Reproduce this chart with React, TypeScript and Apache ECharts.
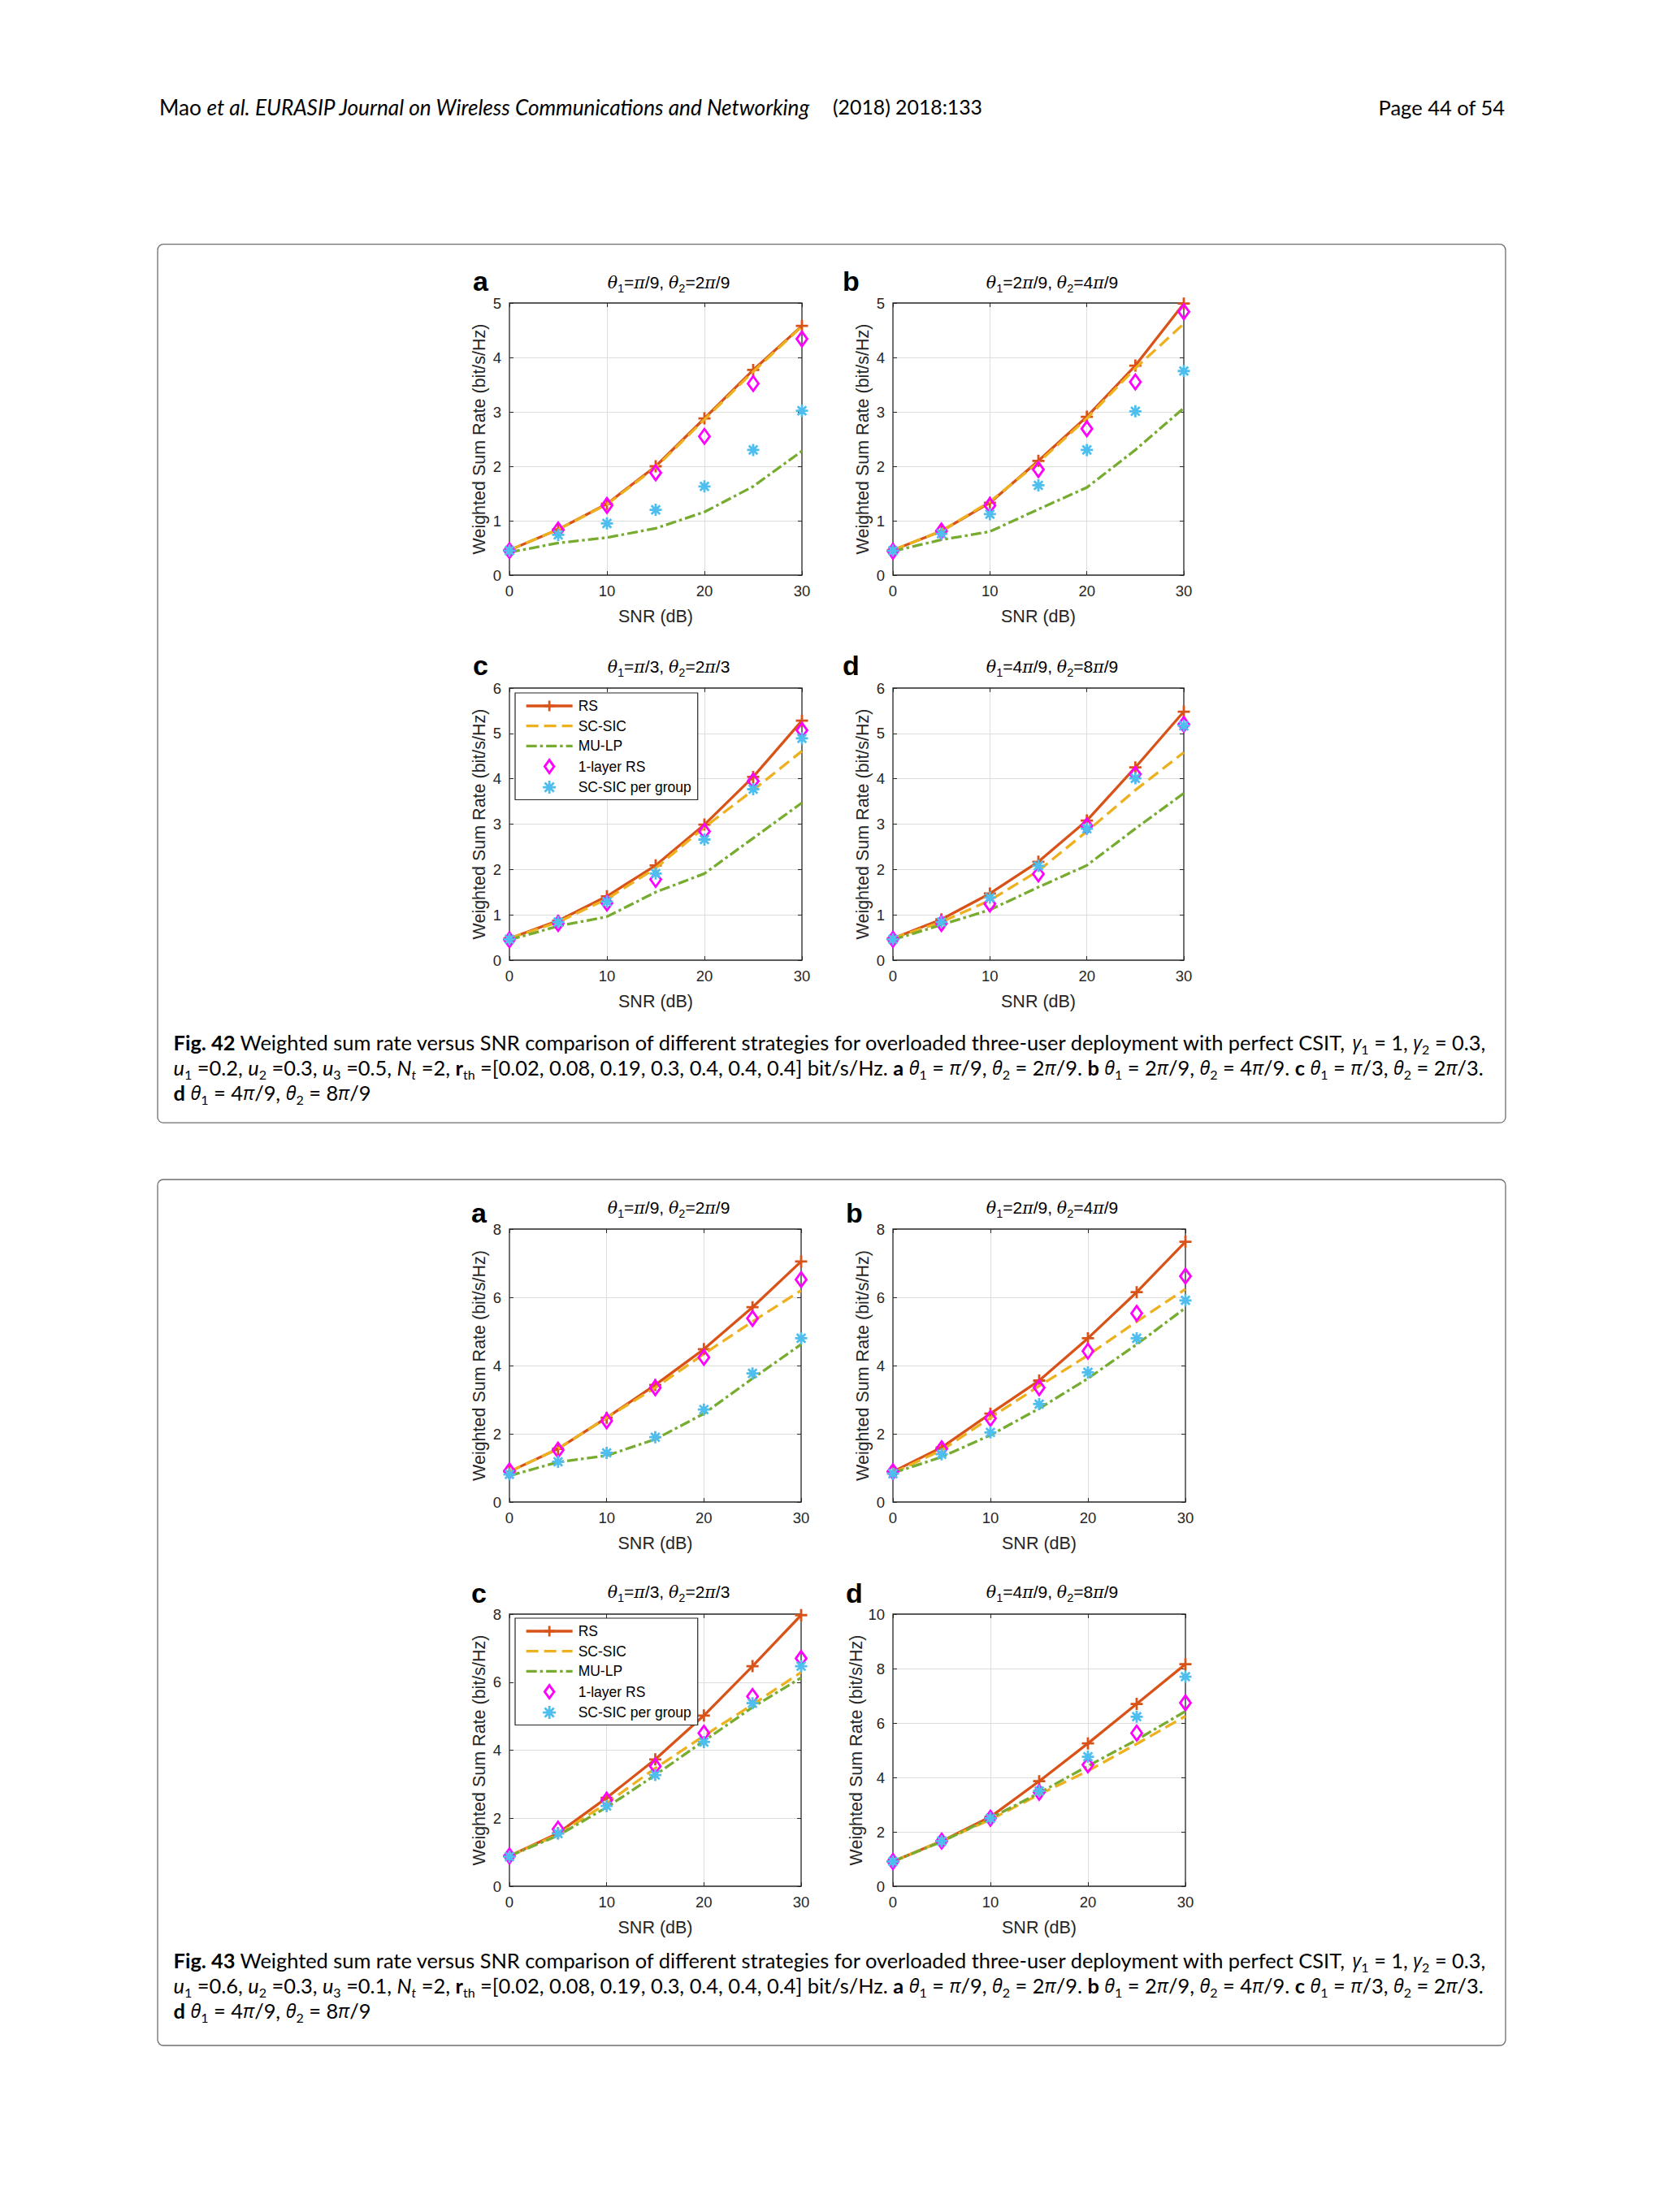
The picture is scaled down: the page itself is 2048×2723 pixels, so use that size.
import React, { useEffect, useRef } from 'react';
import * as echarts from 'echarts';

const W = 2048;
const H = 2723;

// ---------- data ----------
const snr = [0, 5, 10, 15, 20, 25, 30];
const seriesNames = ['RS', 'SC-SIC', 'MU-LP', '1-layer RS', 'SC-SIC per group'];
const rth = ['0.02', '0.08', '0.19', '0.3', '0.4', '0.4', '0.4'];
const u42 = ['0.2', '0.3', '0.5'];
const u43 = ['0.6', '0.3', '0.1'];
const thetaPairs = [['π/9', '2π/9'], ['2π/9', '4π/9'], ['π/3', '2π/3'], ['4π/9', '8π/9']];
const panelLetters = ['a', 'b', 'c', 'd'];
const yMax42 = [5, 5, 6, 6];
const yMax43 = [8, 8, 8, 10];
const yTick42 = [1, 1, 1, 1];
const yTick43 = [2, 2, 2, 2];

// Fig. 42 (a)
const f42a_rs = [0.46, 0.84, 1.31, 2.0, 2.88, 3.77, 4.58];
const f42a_sc = [0.46, 0.84, 1.3, 1.98, 2.86, 3.74, 4.57];
const f42a_mu = [0.42, 0.59, 0.69, 0.86, 1.16, 1.63, 2.28];
const f42a_r1 = [0.45, 0.83, 1.28, 1.88, 2.55, 3.52, 4.34];
const f42a_pg = [0.45, 0.74, 0.95, 1.2, 1.63, 2.3, 3.02];
// Fig. 42 (b)
const f42b_rs = [0.46, 0.81, 1.33, 2.1, 2.91, 3.85, 4.99];
const f42b_sc = [0.46, 0.81, 1.35, 2.07, 2.88, 3.8, 4.62];
const f42b_mu = [0.44, 0.65, 0.8, 1.21, 1.61, 2.3, 3.07];
const f42b_r1 = [0.44, 0.81, 1.28, 1.94, 2.69, 3.55, 4.84];
const f42b_pg = [0.45, 0.76, 1.12, 1.65, 2.3, 3.01, 3.75];
// Fig. 42 (c)
const f42c_rs = [0.48, 0.87, 1.41, 2.09, 2.99, 4.04, 5.28];
const f42c_sc = [0.48, 0.84, 1.35, 2.03, 2.93, 3.75, 4.61];
const f42c_mu = [0.45, 0.75, 0.96, 1.5, 1.91, 2.69, 3.47];
const f42c_r1 = [0.45, 0.81, 1.26, 1.78, 2.84, 3.95, 5.07];
const f42c_pg = [0.46, 0.84, 1.29, 1.91, 2.66, 3.77, 4.89];
// Fig. 42 (d)
const f42d_rs = [0.48, 0.9, 1.47, 2.17, 3.08, 4.25, 5.48];
const f42d_sc = [0.48, 0.84, 1.32, 1.97, 2.84, 3.75, 4.58];
const f42d_mu = [0.45, 0.78, 1.11, 1.61, 2.09, 2.9, 3.68];
const f42d_r1 = [0.46, 0.81, 1.24, 1.9, 2.96, 4.1, 5.2];
const f42d_pg = [0.46, 0.84, 1.38, 2.08, 2.9, 4.01, 5.17];
// Fig. 43 (a)
const f43a_rs = [0.89, 1.56, 2.47, 3.43, 4.48, 5.71, 7.05];
const f43a_sc = [0.89, 1.56, 2.47, 3.35, 4.34, 5.29, 6.2];
const f43a_mu = [0.77, 1.17, 1.36, 1.84, 2.59, 3.62, 4.62];
const f43a_r1 = [0.91, 1.52, 2.38, 3.35, 4.24, 5.38, 6.52];
const f43a_pg = [0.81, 1.18, 1.44, 1.9, 2.71, 3.77, 4.8];
// Fig. 43 (b)
const f43b_rs = [0.89, 1.6, 2.59, 3.56, 4.8, 6.15, 7.63];
const f43b_sc = [0.85, 1.52, 2.47, 3.4, 4.3, 5.29, 6.24];
const f43b_mu = [0.85, 1.32, 1.96, 2.74, 3.62, 4.62, 5.69];
const f43b_r1 = [0.89, 1.56, 2.45, 3.35, 4.42, 5.53, 6.62];
const f43b_pg = [0.83, 1.4, 2.04, 2.87, 3.8, 4.8, 5.91];
// Fig. 43 (c)
const f43c_rs = [0.89, 1.56, 2.6, 3.73, 5.02, 6.47, 7.97];
const f43c_sc = [0.89, 1.52, 2.44, 3.47, 4.42, 5.34, 6.29];
const f43c_mu = [0.89, 1.49, 2.32, 3.27, 4.27, 5.26, 6.13];
const f43c_r1 = [0.89, 1.68, 2.53, 3.53, 4.5, 5.58, 6.7];
const f43c_pg = [0.87, 1.55, 2.36, 3.27, 4.24, 5.38, 6.47];
// Fig. 43 (d)
const f43d_rs = [0.91, 1.66, 2.55, 3.86, 5.25, 6.7, 8.16];
const f43d_sc = [0.91, 1.66, 2.45, 3.37, 4.24, 5.23, 6.25];
const f43d_mu = [0.91, 1.64, 2.5, 3.43, 4.42, 5.38, 6.43];
const f43d_r1 = [0.91, 1.66, 2.5, 3.45, 4.46, 5.63, 6.74];
const f43d_pg = [0.91, 1.66, 2.5, 3.5, 4.76, 6.23, 7.7];

const fig42Data = [
  [f42a_rs, f42a_sc, f42a_mu, f42a_r1, f42a_pg],
  [f42b_rs, f42b_sc, f42b_mu, f42b_r1, f42b_pg],
  [f42c_rs, f42c_sc, f42c_mu, f42c_r1, f42c_pg],
  [f42d_rs, f42d_sc, f42d_mu, f42d_r1, f42d_pg],
];
const fig43Data = [
  [f43a_rs, f43a_sc, f43a_mu, f43a_r1, f43a_pg],
  [f43b_rs, f43b_sc, f43b_mu, f43b_r1, f43b_pg],
  [f43c_rs, f43c_sc, f43c_mu, f43c_r1, f43c_pg],
  [f43d_rs, f43d_sc, f43d_mu, f43d_r1, f43d_pg],
];

// ---------- layout & style ----------
const FONT = 'Liberation Sans';
const CAP_FONT = 'Lato';
const AX = '#262626';
const GRIDC = '#dedede';
const C_RS = '#D95319';
const C_SC = '#EDB120';
const C_MU = '#77AC30';
const C_R1 = '#FF00FF';
const C_PG = '#4DBEEE';
const TXT = '#231f20';

const PLUS = 'path://M0,-10L0,10M-10,0L10,0';
const STAR = 'path://M0,-10L0,10M-10,0L10,0M-7.07,-7.07L7.07,7.07M-7.07,7.07L7.07,-7.07';
const DIAMOND = 'path://M0,-9L6.5,0L0,9L-6.5,0Z';

type Layout = {
  gx: number; gy: number; gw: number; gh: number;
  tx: number; ty: number; lx: number; ly: number; legendTop?: number;
};

const layouts42: Layout[] = [
  { gx: 627, gy: 373, gw: 360, gh: 335, tx: 823, ty: 347.7, lx: 582, ly: 345.5 },
  { gx: 1099, gy: 373, gw: 358, gh: 335, tx: 1295, ty: 347.7, lx: 1037, ly: 345.5 },
  { gx: 627, gy: 847, gw: 360, gh: 335, tx: 823, ty: 820.7, lx: 582, ly: 819, legendTop: 853 },
  { gx: 1099, gy: 847, gw: 358, gh: 335, tx: 1295, ty: 820.7, lx: 1037, ly: 819 },
];
const layouts43: Layout[] = [
  { gx: 627, gy: 1513, gw: 359, gh: 336, tx: 823, ty: 1486.7, lx: 580, ly: 1492.5 },
  { gx: 1099, gy: 1513, gw: 360, gh: 336, tx: 1295, ty: 1486.7, lx: 1041, ly: 1492.5 },
  { gx: 627, gy: 1987, gw: 359, gh: 335, tx: 823, ty: 1959.7, lx: 580, ly: 1960.5, legendTop: 1992 },
  { gx: 1099, gy: 1987, gw: 360, gh: 335, tx: 1295, ty: 1959.7, lx: 1041, ly: 1960.5 },
];

const titleRich: any = {
  n: { fontFamily: FONT, fontSize: 21, lineHeight: 30, color: '#000' },
  g: { fontFamily: 'DejaVu Serif', fontStyle: 'italic', fontSize: 20.5, lineHeight: 30, color: '#000' },
  p: { fontFamily: 'DejaVu Serif', fontStyle: 'italic', fontSize: 20.5, lineHeight: 30, color: '#000' },
  s: { fontFamily: FONT, fontSize: 14.5, lineHeight: 15, verticalAlign: 'bottom', color: '#000' },
};

const CFS = 25.4;
const capRich: any = {
  n: { fontFamily: CAP_FONT, fontSize: CFS, lineHeight: 32, color: TXT },
  b: { fontFamily: CAP_FONT, fontSize: CFS, fontWeight: 'bold', lineHeight: 32, color: TXT },
  i: { fontFamily: CAP_FONT, fontSize: CFS, fontStyle: 'italic', lineHeight: 32, color: TXT },
  g: { fontFamily: 'Open Sans', fontSize: 23.4, fontStyle: 'italic', lineHeight: 32, color: TXT },
  s: { fontFamily: CAP_FONT, fontSize: 16, lineHeight: 16, verticalAlign: 'bottom', color: TXT },
  si: { fontFamily: CAP_FONT, fontSize: 16, fontStyle: 'italic', lineHeight: 16, verticalAlign: 'bottom', color: TXT },
};

const headRich: any = {
  n: { fontFamily: CAP_FONT, fontSize: 26.2, lineHeight: 32, color: TXT },
  i: { fontFamily: CAP_FONT, fontSize: 26.2, fontStyle: 'italic', lineHeight: 32, color: TXT },
  m: { fontFamily: CAP_FONT, fontSize: 24.8, lineHeight: 32, color: TXT },
  r: { fontFamily: CAP_FONT, fontSize: 25.5, lineHeight: 32, color: TXT },
};

function fracTokens(s: string, normal: string, pi: string) {
  const parts = s.split('π');
  let out = '';
  parts.forEach((pt, k) => {
    if (pt) out += `{${normal}|${pt}}`;
    if (k < parts.length - 1) out += `{${pi}|π}`;
  });
  return out;
}

function titleText(pair: string[]) {
  return `{g|θ}{s|1}{n|=}${fracTokens(pair[0], 'n', 'p')}{n|, }{g|θ}{s|2}{n|=}${fracTokens(pair[1], 'n', 'p')}`;
}

function capTheta(k: number, last: boolean) {
  const pair = thetaPairs[k];
  return `{b|${panelLetters[k]}}{n| }{g|θ}{s|1}{n| = }${fracTokens(pair[0], 'n', 'g')}{n|, }{g|θ}{s|2}{n| = }${fracTokens(pair[1], 'n', 'g')}${last ? '' : '{n|. }'}`;
}

function captionLines(num: number, u: string[]) {
  const l1 = `{b|Fig. ${num}}{n| Weighted sum rate versus SNR comparison of different strategies for overloaded three-user deployment with perfect CSIT, }{g|γ}{s|1}{n| = 1, }{g|γ}{s|2}{n| = 0.3,}`;
  const l2 =
    `{i|u}{s|1}{n| =${u[0]}, }{i|u}{s|2}{n| =${u[1]}, }{i|u}{s|3}{n| =${u[2]}, }{i|N}{si|t}{n| =2, }{b|r}{s|th}{n| =[${rth.join(', ')}] bit/s/Hz. }` +
    capTheta(0, false) + capTheta(1, false) + capTheta(2, false);
  const l3 = capTheta(3, true);
  return [l1, l2, l3];
}

function pairs(arr: number[]) {
  return snr.map((x, k) => [x, arr[k]]);
}

function buildOption() {
  const grid: any[] = [];
  const xAxis: any[] = [];
  const yAxis: any[] = [];
  const series: any[] = [];
  const legend: any[] = [];
  const graphic: any[] = [];

  const panels: { lay: Layout; data: number[][]; ymax: number; yint: number; k: number }[] = [];
  layouts42.forEach((lay, k) => panels.push({ lay, data: fig42Data[k], ymax: yMax42[k], yint: yTick42[k], k }));
  layouts43.forEach((lay, k) => panels.push({ lay, data: fig43Data[k], ymax: yMax43[k], yint: yTick43[k], k }));

  const ticks = () => ({ show: true, inside: true, length: 5, lineStyle: { color: AX, width: 1 } });

  panels.forEach((p, i) => {
    const { lay } = p;
    grid.push({
      left: lay.gx, top: lay.gy, width: lay.gw, height: lay.gh,
      show: true, backgroundColor: '#fff', borderColor: AX, borderWidth: 1.3,
    });
    xAxis.push({
      gridIndex: i, type: 'value', min: 0, max: 30, interval: 10, position: 'bottom',
      name: 'SNR (dB)', nameLocation: 'middle', nameGap: 40,
      nameTextStyle: { fontFamily: FONT, fontSize: 21.5, color: AX },
      axisLine: { show: false, onZero: false }, axisTick: ticks(),
      axisLabel: { fontFamily: FONT, fontSize: 18.5, color: AX, margin: 10, showMinLabel: true, showMaxLabel: true },
      splitLine: { show: true, showMinLine: false, showMaxLine: false, lineStyle: { color: GRIDC, width: 1 } },
    });
    xAxis.push({
      gridIndex: i, type: 'value', min: 0, max: 30, interval: 10, position: 'top',
      axisLine: { show: false, onZero: false }, axisTick: ticks(), axisLabel: { show: false }, splitLine: { show: false },
    });
    yAxis.push({
      gridIndex: i, type: 'value', min: 0, max: p.ymax, interval: p.yint, position: 'left',
      name: 'Weighted Sum Rate (bit/s/Hz)', nameLocation: 'middle', nameGap: 26,
      nameTextStyle: { fontFamily: FONT, fontSize: 21.5, color: AX },
      axisLine: { show: false, onZero: false }, axisTick: ticks(),
      axisLabel: { fontFamily: FONT, fontSize: 18.5, color: AX, margin: 10, showMinLabel: true, showMaxLabel: true },
      splitLine: { show: true, showMinLine: false, showMaxLine: false, lineStyle: { color: GRIDC, width: 1 } },
    });
    yAxis.push({
      gridIndex: i, type: 'value', min: 0, max: p.ymax, interval: p.yint, position: 'right',
      axisLine: { show: false, onZero: false }, axisTick: ticks(), axisLabel: { show: false }, splitLine: { show: false },
    });

    const xi = 2 * i;
    series.push({
      type: 'line', name: seriesNames[0], xAxisIndex: xi, yAxisIndex: xi, data: pairs(p.data[0]),
      symbol: PLUS, symbolSize: 15, showSymbol: true, showAllSymbol: true,
      lineStyle: { color: C_RS, width: 3.3 },
      itemStyle: { color: C_RS, borderColor: C_RS, borderWidth: 2.8 },
      z: 2,
    });
    series.push({
      type: 'line', name: seriesNames[1], xAxisIndex: xi, yAxisIndex: xi, data: pairs(p.data[1]),
      symbol: 'none', lineStyle: { color: C_SC, width: 3.3, type: [15, 7] },
      itemStyle: { color: 'rgba(0,0,0,0)' }, z: 3,
    });
    series.push({
      type: 'line', name: seriesNames[2], xAxisIndex: xi, yAxisIndex: xi, data: pairs(p.data[2]),
      symbol: 'none', lineStyle: { color: C_MU, width: 3.3, type: [13, 4, 3.5, 4] },
      itemStyle: { color: 'rgba(0,0,0,0)' }, z: 4,
    });
    series.push({
      type: 'scatter', name: seriesNames[3], xAxisIndex: xi, yAxisIndex: xi, data: pairs(p.data[3]),
      symbol: DIAMOND, symbolSize: [13, 18],
      itemStyle: { color: 'rgba(0,0,0,0)', borderColor: C_R1, borderWidth: 2.9, opacity: 1 }, z: 5,
    });
    series.push({
      type: 'scatter', name: seriesNames[4], xAxisIndex: xi, yAxisIndex: xi, data: pairs(p.data[4]),
      symbol: STAR, symbolSize: 15,
      itemStyle: { color: C_PG, borderColor: C_PG, borderWidth: 2.8, opacity: 1 }, z: 6,
    });

    if (lay.legendTop) {
      legend.push({
        left: 634, top: lay.legendTop, orient: 'vertical', selectedMode: false,
        itemWidth: 57, itemHeight: 16, itemGap: 6.7,
        padding: [7, 8, 6, 12],
        borderColor: AX, borderWidth: 1.2, backgroundColor: '#fff',
        textStyle: { fontFamily: FONT, fontSize: 17.5, color: '#000', lineHeight: 18, padding: [0, 0, 0, 2] },
        data: [
          { name: seriesNames[0], itemStyle: { color: C_RS, borderColor: C_RS, borderWidth: 2.8 }, lineStyle: { color: C_RS, width: 3.3 } },
          { name: seriesNames[1], itemStyle: { color: 'rgba(0,0,0,0)', borderWidth: 0 }, lineStyle: { color: C_SC, width: 3.3, type: [15, 7] } },
          { name: seriesNames[2], itemStyle: { color: 'rgba(0,0,0,0)', borderWidth: 0 }, lineStyle: { color: C_MU, width: 3.3, type: [13, 4, 3.5, 4] } },
          { name: seriesNames[3], icon: DIAMOND, itemStyle: { color: 'rgba(0,0,0,0)', borderColor: C_R1, borderWidth: 2.9 } },
          { name: seriesNames[4], icon: STAR, itemStyle: { color: C_PG, borderColor: C_PG, borderWidth: 2.8 } },
        ],
      });
    }

    graphic.push({
      type: 'text', x: lay.tx, y: lay.ty, z: 10,
      style: { text: titleText(thetaPairs[p.k]), rich: titleRich, align: 'center', verticalAlign: 'middle' },
    });
    graphic.push({
      type: 'text', x: lay.lx, y: lay.ly, z: 10,
      style: { text: panelLetters[p.k], fontFamily: FONT, fontSize: 34, fontWeight: 'bold', fill: '#000', align: 'left', verticalAlign: 'middle' },
    });
  });

  // header
  graphic.push({
    type: 'text', x: 196, y: 131.6,
    style: { text: '{n|Mao }{i|et al. EURASIP Journal on Wireless Communications and Networking}', rich: headRich, align: 'left', verticalAlign: 'middle' },
  });
  graphic.push({
    type: 'text', x: 1025, y: 131.8,
    style: { text: '{m|(2018) 2018:133}', rich: headRich, align: 'left', verticalAlign: 'middle' },
  });
  graphic.push({
    type: 'text', x: 1852, y: 131.8,
    style: { text: '{r|Page 44 of 54}', rich: headRich, align: 'right', verticalAlign: 'middle' },
  });

  // figure boxes
  graphic.push({
    type: 'rect', z: -5, shape: { x: 194, y: 300.7, width: 1659, height: 1081.5, r: 7 },
    style: { fill: 'none', stroke: '#6e6e6e', lineWidth: 1.3 },
  });
  graphic.push({
    type: 'rect', z: -5, shape: { x: 194, y: 1452, width: 1659, height: 1066, r: 7 },
    style: { fill: 'none', stroke: '#6e6e6e', lineWidth: 1.3 },
  });

  // captions
  const cap42 = captionLines(42, u42);
  const cap43 = captionLines(43, u43);
  const capY42 = [1283.2, 1314.2, 1345.2];
  const capY43 = [2413.2, 2444.2, 2475.2];
  cap42.forEach((t, k) => graphic.push({ type: 'text', x: 213.6, y: capY42[k], style: { text: t, rich: capRich, align: 'left', verticalAlign: 'middle' } }));
  cap43.forEach((t, k) => graphic.push({ type: 'text', x: 213.6, y: capY43[k], style: { text: t, rich: capRich, align: 'left', verticalAlign: 'middle' } }));

  return {
    animation: false,
    backgroundColor: '#fff',
    grid, xAxis, yAxis, series, legend, graphic,
  };
}

export default function App() {
  const ref = useRef<HTMLDivElement>(null);
  useEffect(() => {
    document.body.style.margin = '0';
    if (!ref.current) return;
    const chart = echarts.init(ref.current, undefined, { renderer: 'svg', width: W, height: H });
    chart.setOption(buildOption() as any);
    return () => chart.dispose();
  }, []);
  return <div ref={ref} style={{ width: W, height: H, display: 'block' }} />;
}
